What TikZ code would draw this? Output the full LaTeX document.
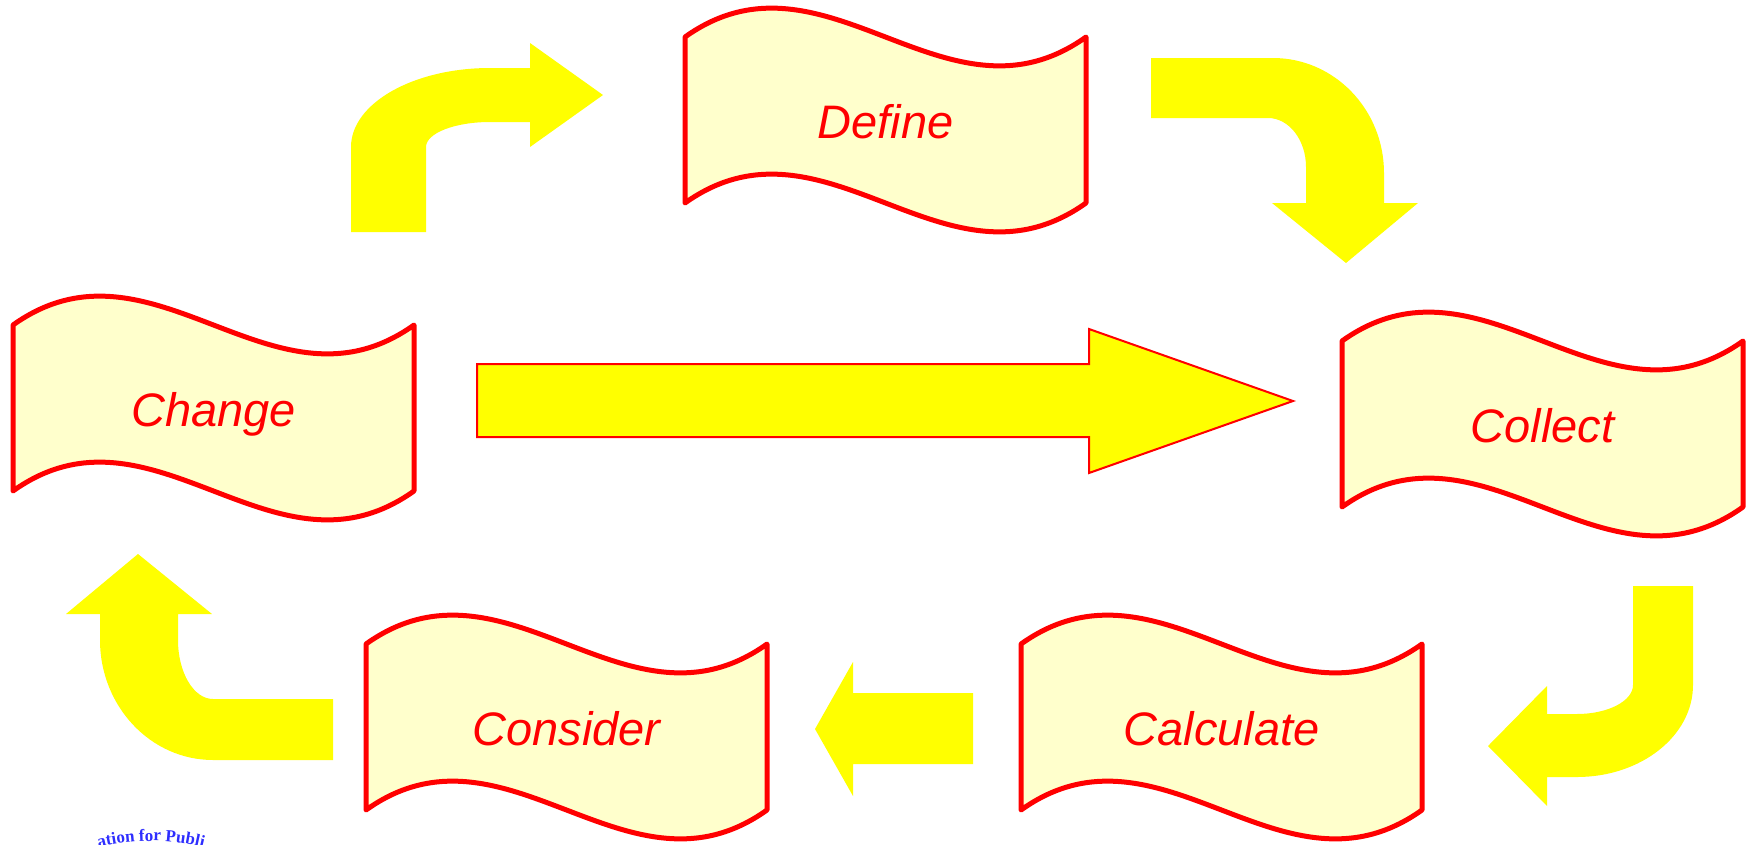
\documentclass[tikz,border=0pt]{standalone}
\usepackage{fontspec}
\setmainfont{Liberation Sans}
\newfontfamily\logofont{Liberation Serif}
\usetikzlibrary{decorations.text}
\definecolor{flagfill}{HTML}{FFFFCC}
\definecolor{arrowyellow}{HTML}{FFFF00}
\definecolor{flagred}{HTML}{FF0000}
\definecolor{logoblue}{HTML}{2E2EFF}
\tikzset{
  flag/.style={draw=flagred, fill=flagfill, line width=5pt, line join=round},
  lbl/.style={text=flagred, font=\fontsize{47}{50}\selectfont\itshape, inner sep=0pt, anchor=base},
  blockarrow/.style={fill=arrowyellow},
  bigarrow/.style={fill=arrowyellow, draw=flagred, line width=2pt},
}
\newcommand\wavebox[4]{%
  \begin{scope}[shift={(#1,#2)}]
    \draw[flag] (0,0) .. controls (140,-100) and (261,100) .. (401,0)
      -- (401,166) .. controls (261,266) and (140,66) .. (0,166) -- cycle;
    \node[lbl] (#3) at (200.5,101.5) {#4};
  \end{scope}}
\begin{document}
\begin{tikzpicture}[x=1pt,y=-1pt]
\useasboundingbox (0,0) rectangle (1748,844);

% flags
\wavebox{685}{37}{define}{Define}
\wavebox{13}{325}{change}{Change}
\wavebox{1342}{341}{collect}{Collect}
\wavebox{366}{644}{consider}{Consider}
\wavebox{1021}{644}{calculate}{Calculate}

% arrow: change -> define (up then right)
\fill[blockarrow] (351,232) -- (351,147) .. controls (351,103.4) and (413.3,68) .. (490,68)
  -- (530,68) -- (530,43) -- (603,95) -- (530,147) -- (530,122) -- (490,122)
  .. controls (454.7,122) and (426,133.2) .. (426,147) -- (426,232) -- cycle;

% arrow: define -> collect (right then down)
\fill[blockarrow] (1151,58) -- (1273,58) .. controls (1334.3,58) and (1384,109.5) .. (1384,173)
  -- (1384,203) -- (1418,203) -- (1346,263) -- (1272,203) -- (1306,203) -- (1306,167)
  .. controls (1306,140) and (1289,118) .. (1268,118) -- (1151,118) -- cycle;

% arrow: collect -> calculate (down then left)
\fill[blockarrow] (1633,586) -- (1693,586) -- (1693,685) .. controls (1693,735.8) and (1641,777) .. (1577,777)
  -- (1547,777) -- (1547,806) -- (1488,746) -- (1547,686) -- (1547,714) -- (1577,714)
  .. controls (1607.9,714) and (1633,701) .. (1633,685) -- cycle;

% arrow: calculate -> consider
\fill[blockarrow] (973,693) -- (853,693) -- (853,662) -- (815,729) -- (853,796) -- (853,764) -- (973,764) -- cycle;

% arrow: consider -> change (left then up)
\fill[blockarrow] (333,699) -- (333,760) -- (213,760) .. controls (150.6,760) and (100,706.2) .. (100,640)
  -- (100,614) -- (66,614) -- (138,554) -- (212,614) -- (178,614) -- (178,640)
  .. controls (178,672.6) and (193.7,699) .. (213,699) -- cycle;

% big arrow: change -> collect
\draw[bigarrow] (477,364) -- (1089,364) -- (1089,329) -- (1293,401) -- (1089,473) -- (1089,437) -- (477,437) -- cycle;

% partial logo text at bottom left
\path[decorate, decoration={text along path, text align=center,
  text={|\logofont\bfseries\fontsize{17}{18}\selectfont\color{logoblue}|ation for Publi}}]
  (36,877) .. controls (98,829) and (204,829) .. (266,877);
\end{tikzpicture}
\end{document}
